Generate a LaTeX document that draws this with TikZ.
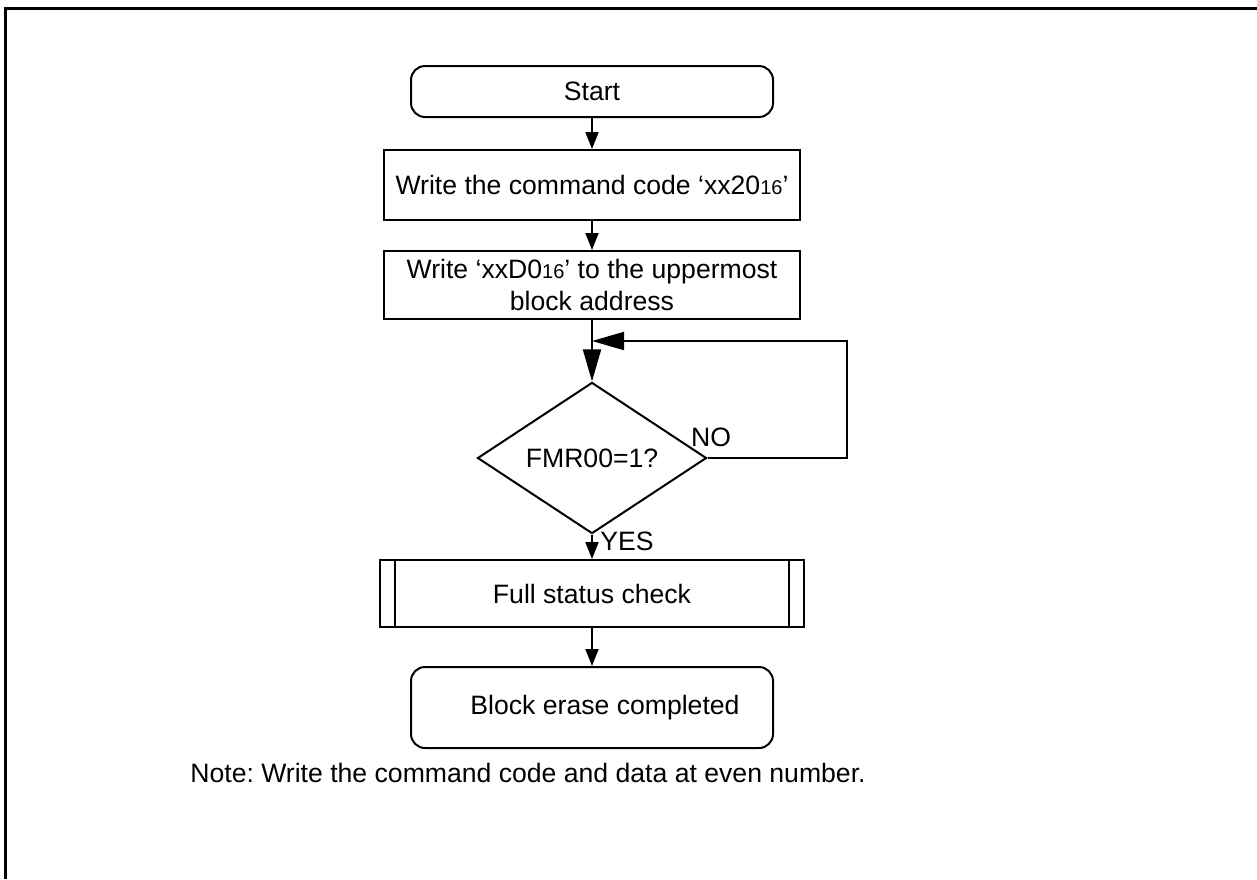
\documentclass[tikz,border=0pt]{standalone}
\usepackage{fontspec}
\setmainfont{Liberation Sans}
\usetikzlibrary{arrows.meta,shapes.geometric}
\frenchspacing
\newcommand{\hexsub}[1]{{\fontsize{10}{12}\selectfont #1}}
\tikzset{
    every node/.style={
        font=\fontsize{13.3}{16}\selectfont,
        inner sep=0pt
    },
    terminal/.style={
        draw, line width=1pt, rounded corners=7pt,
        minimum width=181pt, minimum height=25.5pt
    },
    process/.style={
        draw, line width=1pt, align=center,
        minimum width=208pt, minimum height=34pt
    },
    decision/.style={
        draw, line width=1pt, diamond,
        minimum width=114.5pt, minimum height=64pt
    },
    flow/.style={
        line width=1pt,
        -{Triangle[length=8.5pt,width=6.5pt]}
    },
    bigflow/.style={
        line width=1pt,
        -{Triangle[length=16pt,width=9pt]}
    }
}

\begin{document}
\begin{tikzpicture}[x=0.5pt,y=-0.5pt]
                \useasboundingbox (0,0) rectangle (1257,879);
                % page frame, only top and left edge
                \draw[line width=1.5pt] (5,879) -- (5,8) -- (1257,8);

                \coordinate (P1) at (592, 91.5);
                \coordinate (P2) at (592, 185);
                \coordinate (P3) at (592, 285);
                \coordinate (P4) at (592, 458);
                \coordinate (P5) at (592, 593.5);
                \coordinate (P6) at (592, 707.5);
                \coordinate (join) at (592, 341);
                \coordinate (loopR) at (847, 341);

                \node[terminal] (start) at (P1) {Start};
                \node[process, minimum height=35pt] (cmd) at (P2)
                    {Write the command code `xx20\hexsub{16}'};
                \node[process] (addr) at (P3)
                    {Write `xxD0\hexsub{16}' to the uppermost\\block address};
                \node[decision] (poll) at (P4) {FMR00=1?};
                \node[process, minimum width=212pt, minimum height=33.5pt] (check) at (P5)
                    {Full status check};
                \node[terminal, minimum height=40.5pt] (done) at (P6)
                    {\hspace*{13pt}Block erase completed};

                \draw[line width=1pt] ([xshift=8pt]check.north west) -- ([xshift=8pt]check.south west);
                \draw[line width=1pt] ([xshift=-8pt]check.north east) -- ([xshift=-8pt]check.south east);

                \draw[flow] (start) -- (cmd);
                \draw[flow] (cmd) -- (addr);
                \draw[line width=1pt] (addr.south) -- (join);
                \draw[bigflow] (join) -- (poll.north);
                \draw[bigflow] (poll.east) -| (loopR) -- (join);
                \draw[flow] (poll.south) -- (check.north);
                \draw[flow] (check) -- (done);

                \node (no) at (711, 437) {NO};
                \node (yes) at (627, 541) {YES};
                \node (note) at (528, 773)
                    {Note: Write the command code and data at even number.};
                \end{tikzpicture}
\end{document}
